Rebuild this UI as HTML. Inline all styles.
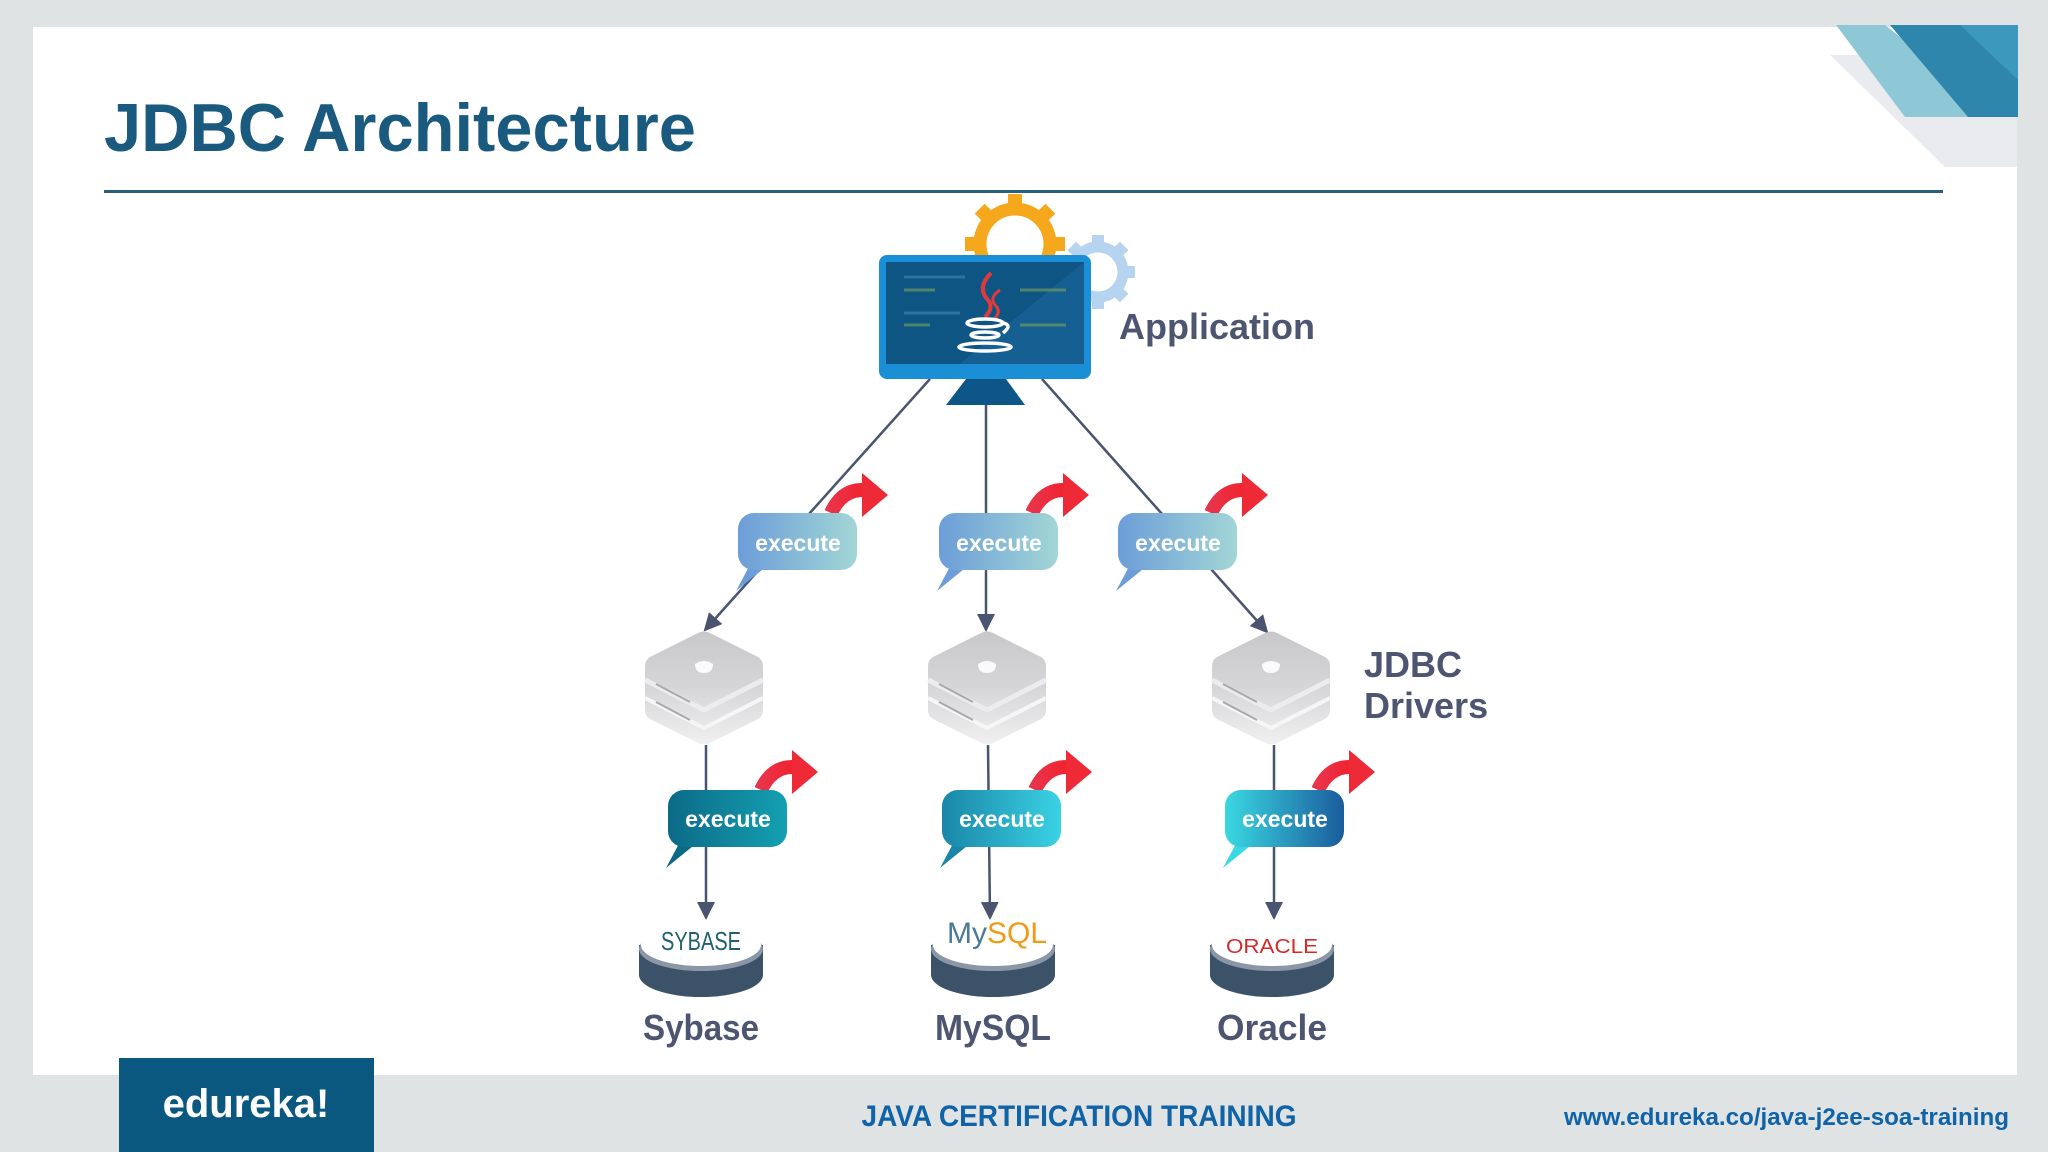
<!DOCTYPE html>
<html><head><meta charset="utf-8"><style>
html,body{margin:0;padding:0;width:2048px;height:1152px;overflow:hidden;background:#dfe3e3}
svg{display:block}
text{font-family:"Liberation Sans",sans-serif}
</style></head><body>
<svg width="2048" height="1152" viewBox="0 0 2048 1152" xmlns="http://www.w3.org/2000/svg">
<defs>
<linearGradient id="b1" x1="0" x2="1"><stop offset="0" stop-color="#6c9dd8"/><stop offset="1" stop-color="#a2d6d6"/></linearGradient>
<linearGradient id="c1" x1="0" x2="1"><stop offset="0" stop-color="#0c6a86"/><stop offset="1" stop-color="#14a0b2"/></linearGradient>
<linearGradient id="c2" x1="0" x2="1"><stop offset="0" stop-color="#1a86a8"/><stop offset="1" stop-color="#3ad2e4"/></linearGradient>
<linearGradient id="c3" x1="0" x2="1"><stop offset="0" stop-color="#3ad8e2"/><stop offset="1" stop-color="#1a5c9c"/></linearGradient>
<linearGradient id="red" x1="0" x2="1"><stop offset="0" stop-color="#e8344a"/><stop offset="1" stop-color="#f2222e"/></linearGradient>
<linearGradient id="hex" x1="0" y1="0" x2="0" y2="1"><stop offset="0" stop-color="#c8c8cb"/><stop offset="0.5" stop-color="#d6d6d8"/><stop offset="1" stop-color="#f0f0f1"/></linearGradient>
<marker id="ah" markerWidth="18" markerHeight="18" refX="16" refY="9" orient="auto" markerUnits="userSpaceOnUse" viewBox="0 0 18 18"><path d="M0,0 L18,9 L0,18 z" fill="#4a5470"/></marker>
<g id="hexg">
<path d="M-6,-55 Q0,-58 6,-55 L54,-31 Q59,-28 59,-22 L59,22 Q59,28 54,31 L6,55 Q0,58 -6,55 L-54,31 Q-59,28 -59,22 L-59,-22 Q-59,-28 -54,-31 Z" fill="url(#hex)"/>
<path d="M-59,-8 L0,22 L59,-8" fill="none" stroke="#ececee" stroke-width="5"/>
<path d="M-59,10 L0,40 L59,10" fill="none" stroke="#f6f6f6" stroke-width="4"/>
<path d="M-48,-4 L-14,14 M-48,14 L-14,32" stroke="#a8a8ac" stroke-width="2"/>
<path d="M-9,-24 q9,-6 18,0 q0,9 -9,9 q-9,0 -9,-9z" fill="#fafafa"/>
</g>
</defs>
<rect x="0" y="0" width="2048" height="1152" fill="#dfe3e3"/>
<rect x="33" y="27" width="1984" height="1048" fill="#ffffff"/>
<!-- corner decoration -->
<polygon points="1830,55 2017,55 2017,167 1945,167" fill="#e9ebee"/>
<polygon points="1836,25 1885,25 2002,117 1905,117" fill="#8ec7d6"/>
<polygon points="1890,25 2018,25 2018,117 1968,117" fill="#2f86ad"/>
<polygon points="1960,25 2018,25 2018,80" fill="#3c98bc"/>
<!-- title -->
<text x="104" y="151" font-size="68" font-weight="bold" fill="#1a5a7e" textLength="592" lengthAdjust="spacingAndGlyphs">JDBC Architecture</text>
<rect x="104" y="190" width="1839" height="3" fill="#2b5d7c"/>
<!-- gears -->
<g transform="translate(1015,244)">
<circle r="35" fill="none" stroke="#f6a81c" stroke-width="13"/>
<g fill="#f6a81c"><rect x="-7" y="-50" width="14" height="12"/><rect x="-7" y="38" width="14" height="12"/><rect x="-50" y="-7" width="12" height="14"/><rect x="38" y="-7" width="12" height="14"/>
<rect x="-7" y="-50" width="14" height="12" transform="rotate(45)"/><rect x="-7" y="-50" width="14" height="12" transform="rotate(-45)"/><rect x="-7" y="38" width="14" height="12" transform="rotate(45)"/><rect x="-7" y="38" width="14" height="12" transform="rotate(-45)"/></g>
</g>
<g transform="translate(1098,272)">
<circle r="25" fill="none" stroke="#b6d4f0" stroke-width="11"/>
<g fill="#b6d4f0"><rect x="-6" y="-37" width="12" height="9"/><rect x="-6" y="28" width="12" height="9"/><rect x="28" y="-6" width="9" height="12"/><rect x="-37" y="-6" width="9" height="12"/>
<rect x="-6" y="-37" width="12" height="9" transform="rotate(45)"/><rect x="-6" y="-37" width="12" height="9" transform="rotate(-45)"/><rect x="-6" y="28" width="12" height="9" transform="rotate(45)"/><rect x="-6" y="28" width="12" height="9" transform="rotate(-45)"/></g>
</g>
<!-- connectors -->
<g stroke="#4a5470" stroke-width="2.5" fill="none">
<line x1="930" y1="379" x2="705" y2="630" marker-end="url(#ah)"/>
<line x1="986" y1="405" x2="986" y2="630" marker-end="url(#ah)"/>
<line x1="1042" y1="379" x2="1267" y2="632" marker-end="url(#ah)"/>
<line x1="706" y1="745" x2="706" y2="918" marker-end="url(#ah)"/>
<line x1="988" y1="745" x2="990" y2="918" marker-end="url(#ah)"/>
<line x1="1274" y1="745" x2="1274" y2="918" marker-end="url(#ah)"/>
</g>
<!-- monitor -->
<polygon points="966,379 1006,379 1025,405 946,405" fill="#0f5688"/>
<rect x="879" y="255" width="212" height="124" rx="8" fill="#1a8fd6"/>
<rect x="886" y="262" width="198" height="102" fill="#0e5584"/>
<polygon points="1084,262 1084,364 960,364" fill="#165f92"/>
<g stroke-width="3" opacity="0.7"><line x1="904" y1="277" x2="965" y2="277" stroke="#3d7fa8"/><line x1="904" y1="290" x2="935" y2="290" stroke="#6a9a60"/><line x1="1020" y1="290" x2="1066" y2="290" stroke="#6a9a60"/><line x1="904" y1="313" x2="960" y2="313" stroke="#3d7fa8"/><line x1="904" y1="325" x2="930" y2="325" stroke="#6a9a60"/><line x1="1020" y1="325" x2="1066" y2="325" stroke="#6a9a60"/></g>
<path d="M991,273 q-14,14 -4,26 q8,8 -2,18" stroke="#e03a3a" stroke-width="4" fill="none"/>
<path d="M1000,290 q-12,8 -4,16 q5,6 -1,12" stroke="#e03a3a" stroke-width="3" fill="none"/>
<g stroke="#ffffff" stroke-width="3.5" fill="none"><ellipse cx="985" cy="323" rx="18" ry="4"/><path d="M1003,323 q10,2 0,10"/><ellipse cx="985" cy="335" rx="14" ry="3"/><ellipse cx="985" cy="347" rx="26" ry="4"/></g>
<text x="1119" y="339" font-size="36" font-weight="bold" fill="#4e5570">Application</text>
<!-- row1 bubbles -->
<g transform="translate(798,541)">
<path d="M33,-28 Q44,-52 66,-51" stroke="url(#red)" stroke-width="14" fill="none"/>
<polygon points="64,-68 90,-46 64,-24" fill="#ee2a36"/>
<polygon points="-46,20 -62,50 -30,24" fill="#6c9dd8"/>
<rect x="-60" y="-28" width="119" height="57" rx="16" fill="url(#b1)"/>
<text x="0" y="10" font-size="23" font-weight="bold" fill="#ffffff" text-anchor="middle">execute</text>
</g>
<g transform="translate(999,541)">
<path d="M33,-28 Q44,-52 66,-51" stroke="url(#red)" stroke-width="14" fill="none"/>
<polygon points="64,-68 90,-46 64,-24" fill="#ee2a36"/>
<polygon points="-46,20 -62,50 -30,24" fill="#6c9dd8"/>
<rect x="-60" y="-28" width="119" height="57" rx="16" fill="url(#b1)"/>
<text x="0" y="10" font-size="23" font-weight="bold" fill="#ffffff" text-anchor="middle">execute</text>
</g>
<g transform="translate(1178,541)">
<path d="M33,-28 Q44,-52 66,-51" stroke="url(#red)" stroke-width="14" fill="none"/>
<polygon points="64,-68 90,-46 64,-24" fill="#ee2a36"/>
<polygon points="-46,20 -62,50 -30,24" fill="#6c9dd8"/>
<rect x="-60" y="-28" width="119" height="57" rx="16" fill="url(#b1)"/>
<text x="0" y="10" font-size="23" font-weight="bold" fill="#ffffff" text-anchor="middle">execute</text>
</g>
<!-- drivers -->
<use href="#hexg" x="704" y="688"/>
<use href="#hexg" x="987" y="688"/>
<use href="#hexg" x="1271" y="688"/>
<text x="1364" y="677" font-size="36" font-weight="bold" fill="#4e5570">JDBC</text>
<text x="1364" y="718" font-size="36" font-weight="bold" fill="#4e5570">Drivers</text>
<!-- row2 bubbles -->
<g transform="translate(728,818)">
<path d="M33,-28 Q44,-52 66,-51" stroke="url(#red)" stroke-width="14" fill="none"/>
<polygon points="64,-68 90,-46 64,-24" fill="#ee2a36"/>
<polygon points="-46,20 -62,50 -30,24" fill="#0c6a86"/>
<rect x="-60" y="-28" width="119" height="57" rx="16" fill="url(#c1)"/>
<text x="0" y="9" font-size="23" font-weight="bold" fill="#ffffff" text-anchor="middle">execute</text>
</g>
<g transform="translate(1002,818)">
<path d="M33,-28 Q44,-52 66,-51" stroke="url(#red)" stroke-width="14" fill="none"/>
<polygon points="64,-68 90,-46 64,-24" fill="#ee2a36"/>
<polygon points="-46,20 -62,50 -30,24" fill="#1a86a8"/>
<rect x="-60" y="-28" width="119" height="57" rx="16" fill="url(#c2)"/>
<text x="0" y="9" font-size="23" font-weight="bold" fill="#ffffff" text-anchor="middle">execute</text>
</g>
<g transform="translate(1285,818)">
<path d="M33,-28 Q44,-52 66,-51" stroke="url(#red)" stroke-width="14" fill="none"/>
<polygon points="64,-68 90,-46 64,-24" fill="#ee2a36"/>
<polygon points="-46,20 -62,50 -30,24" fill="#3ad8e2"/>
<rect x="-60" y="-28" width="119" height="57" rx="16" fill="url(#c3)"/>
<text x="0" y="9" font-size="23" font-weight="bold" fill="#ffffff" text-anchor="middle">execute</text>
</g>
<!-- databases -->
<g transform="translate(701,945)">
<path d="M-62,0 L-62,30 A62,22 0 0 0 62,30 L62,0 z" fill="#3b5269"/>
<ellipse cx="0" cy="4" rx="62" ry="22" fill="#8b97a6"/>
<ellipse cx="0" cy="0" rx="60" ry="21" fill="#ffffff"/>
<text x="0" y="5" font-size="26" font-family="Liberation Serif" fill="#1f5f6f" text-anchor="middle" textLength="80" lengthAdjust="spacingAndGlyphs">SYBASE</text>
</g>
<g transform="translate(993,945)">
<path d="M-62,0 L-62,30 A62,22 0 0 0 62,30 L62,0 z" fill="#3b5269"/>
<ellipse cx="0" cy="4" rx="62" ry="22" fill="#8b97a6"/>
<ellipse cx="0" cy="0" rx="60" ry="21" fill="#ffffff"/>
<text x="-46" y="-2" font-size="30" fill="#4a7a98">My<tspan fill="#f29a14">SQL</tspan></text>
</g>
<g transform="translate(1272,945)">
<path d="M-62,0 L-62,30 A62,22 0 0 0 62,30 L62,0 z" fill="#3b5269"/>
<ellipse cx="0" cy="4" rx="62" ry="22" fill="#8b97a6"/>
<ellipse cx="0" cy="0" rx="60" ry="21" fill="#ffffff"/>
<text x="0" y="8" font-size="20" fill="#d42a2a" text-anchor="middle" textLength="92" lengthAdjust="spacingAndGlyphs">ORACLE</text>
</g>
<g font-size="36" font-weight="bold" fill="#4e5570" text-anchor="middle">
<text x="701" y="1040" textLength="116" lengthAdjust="spacingAndGlyphs">Sybase</text>
<text x="993" y="1040" textLength="116" lengthAdjust="spacingAndGlyphs">MySQL</text>
<text x="1272" y="1040" textLength="110" lengthAdjust="spacingAndGlyphs">Oracle</text>
</g>
<!-- footer -->
<rect x="119" y="1058" width="255" height="94" fill="#0a5880"/>
<text x="246" y="1117" font-size="40" font-weight="bold" font-family="Liberation Serif" fill="#ffffff" text-anchor="middle">edureka!</text>
<text x="1079" y="1126" font-size="30" font-weight="bold" fill="#0f63a6" text-anchor="middle" textLength="435" lengthAdjust="spacingAndGlyphs">JAVA CERTIFICATION TRAINING</text>
<text x="2009" y="1125" font-size="24" font-weight="bold" fill="#0f63a6" text-anchor="end" textLength="445" lengthAdjust="spacingAndGlyphs">www.edureka.co/java-j2ee-soa-training</text>
</svg>
</body></html>
